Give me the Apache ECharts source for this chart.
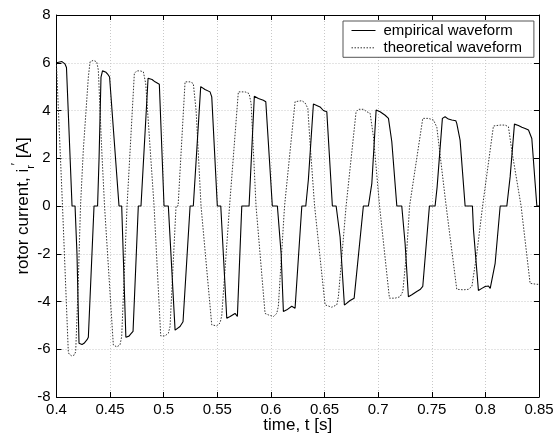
<!DOCTYPE html>
<html>
<head>
<meta charset="utf-8">
<script src="https://cdn.jsdelivr.net/npm/echarts@6/dist/echarts.min.js"></script>
<style>
html,body{margin:0;padding:0;background:#fff;}
#chart{width:555px;height:437px;}
</style>
</head>
<body>
<div id="chart"></div>
<script>
// ---- data ----
var empiricalTime = [0.4000,0.4051,0.4079,0.4093,0.4145,0.4173,0.4191,0.4210,0.4238,0.4257,0.4285,0.4297,0.4350,0.4383,0.4397,0.4415,0.4429,0.4462,0.4481,0.4495,0.4583,0.4608,0.4647,0.4676,0.4695,0.4714,0.4763,0.4788,0.4854,0.4891,0.4919,0.4959,0.5003,0.5043,0.5106,0.5115,0.5152,0.5180,0.5246,0.5276,0.5345,0.5385,0.5432,0.5448,0.5500,0.5532,0.5588,0.5619,0.5665,0.5687,0.5728,0.5796,0.5845,0.5883,0.5929,0.5952,0.5961,0.6013,0.6060,0.6095,0.6116,0.6148,0.6194,0.6209,0.6225,0.6288,0.6325,0.6349,0.6396,0.6412,0.6458,0.6489,0.6505,0.6521,0.6573,0.6608,0.6645,0.6685,0.6738,0.6776,0.6794,0.6862,0.6909,0.6941,0.6981,0.7018,0.7065,0.7081,0.7096,0.7127,0.7174,0.7220,0.7251,0.7282,0.7314,0.7360,0.7391,0.7416,0.7478,0.7531,0.7550,0.7599,0.7624,0.7655,0.7687,0.7702,0.7724,0.7733,0.7764,0.7811,0.7879,0.7889,0.7935,0.7967,0.7998,0.8029,0.8045,0.8091,0.8138,0.8200,0.8231,0.8271,0.8277,0.8308,0.8340,0.8371,0.8402,0.8433,0.8464,0.8480,0.8500];
var empiricalCurrent = [6.00,6.05,5.95,5.80,0,0,-2.0,-5.75,-5.80,-5.75,-5.60,-5.50,0,0,2.0,5.40,5.66,5.60,5.50,5.40,0,0,-5.50,-5.45,-5.35,-5.25,0,0,5.35,5.30,5.20,5.10,0,0,-5.20,-5.20,-5.05,-4.85,0,0,5.00,4.88,4.78,4.57,0,0,-4.70,-4.63,-4.50,-4.63,0,0,4.60,4.50,4.43,4.37,4.43,0,0,-2.0,-4.42,-4.35,-4.20,-4.15,-4.28,0,0,1.10,4.27,4.27,4.15,4.00,4.03,3.95,0,0,-1.30,-4.15,-3.96,-3.86,-3.80,0,0,0.95,4.02,3.95,3.80,3.80,3.67,2.70,0,0,-1.56,-3.80,-3.72,-3.58,-3.50,-3.37,0,0,0.80,3.67,3.74,3.64,3.60,3.53,3.57,3.46,2.76,0,0,-1.00,-3.54,-3.45,-3.37,-3.35,-3.45,-2.40,0,0,1.23,3.43,3.46,3.37,3.30,3.25,3.18,2.83,0.95,0,0];

var theoreticalTime = [0.4000,0.4056,0.4110,0.4117,0.4142,0.4166,0.4179,0.4203,0.4224,0.4233,0.4250,0.4297,0.4313,0.4343,0.4375,0.4390,0.4422,0.4448,0.4457,0.4530,0.4562,0.4592,0.4608,0.4658,0.4672,0.4726,0.4748,0.4779,0.4810,0.4832,0.4910,0.4928,0.4972,0.5012,0.5043,0.5059,0.5115,0.5134,0.5199,0.5208,0.5246,0.5276,0.5302,0.5348,0.5362,0.5448,0.5495,0.5525,0.5541,0.5614,0.5628,0.5696,0.5759,0.5796,0.5815,0.5861,0.5875,0.5945,0.5976,0.6023,0.6054,0.6069,0.6127,0.6141,0.6225,0.6288,0.6318,0.6344,0.6365,0.6407,0.6421,0.6505,0.6567,0.6614,0.6629,0.6701,0.6715,0.6794,0.6816,0.6862,0.6894,0.6925,0.6956,0.7013,0.7027,0.7105,0.7158,0.7205,0.7230,0.7267,0.7293,0.7307,0.7416,0.7469,0.7516,0.7547,0.7634,0.7648,0.7733,0.7795,0.7842,0.7874,0.7920,0.7974,0.7988,0.8075,0.8138,0.8184,0.8215,0.8247,0.8333,0.8347,0.8417,0.8480,0.8500];
var theoreticalCurrent = [5.90,0,-6.10,-6.20,-6.28,-6.24,-6.10,-3.20,0,0,2.34,5.40,6.04,6.10,6.04,5.70,2.34,0,0,-5.82,-5.90,-5.82,-5.47,0,0,5.55,5.66,5.66,5.62,5.13,0,0,-5.44,-5.44,-5.33,-5.05,0,0,5.20,5.24,5.20,5.13,4.00,0,0,-4.98,-5.02,-4.90,-4.60,0,0,4.78,4.78,4.71,4.30,0,0,-4.50,-4.56,-4.63,-4.50,-4.20,0,0,4.37,4.41,4.32,4.09,2.62,0,0,-4.14,-4.24,-4.14,-3.80,0,0,3.95,4.05,4.05,3.95,3.88,2.90,0,0,-3.86,-3.86,-3.80,-3.58,-1.84,0,0,3.67,3.67,3.60,3.30,0,0,-3.49,-3.51,-3.49,-3.37,-2.00,0,0,3.35,3.39,3.39,3.32,2.30,0,0,-3.24,-3.28,-3.28];

var seriesNames = ['empirical waveform', 'theoretical waveform'];
var xLabel = 'time, t [s]';
var yLabel = 'rotor current, i{r|r}{p|\u2032} [A]';

function zip(a, b) { var o = []; for (var i = 0; i < a.length; i++) o.push([a[i], b[i]]); return o; }

var chart = echarts.init(document.getElementById('chart'), null, {renderer: 'canvas'});
var font = '"Liberation Sans", Arial, Helvetica, sans-serif';
var gridLine = {show: true, lineStyle: {color: '#c8c8c8', type: [1, 2], width: 1}};

chart.setOption({
  animation: false,
  backgroundColor: '#fff',
  textStyle: {fontFamily: font, color: '#000'},
  grid: {left: 56.5, right: 16, top: 15, bottom: 40, show: false, containLabel: false, outerBoundsMode: 'none'},
  legend: {
    left: 343, top: 21,
    orient: 'vertical',
    backgroundColor: '#fff',
    borderColor: '#555', borderWidth: 1,
    padding: [2, 12, 2, 8],
    itemWidth: 24, itemHeight: 10, itemGap: 2.3,
    itemStyle: {color: 'rgba(0,0,0,0)', borderWidth: 0, opacity: 0},
    lineStyle: {width: 1},
    textStyle: {fontFamily: font, fontSize: 15, lineHeight: 15, color: '#000', padding: [0, 0, 0, 3]},
    data: seriesNames
  },
  xAxis: [{
    type: 'value', min: 0.4, max: 0.85, interval: 0.05,
    name: xLabel, nameLocation: 'middle', nameGap: 20, nameMoveOverlap: false,
    nameTextStyle: {fontFamily: font, fontSize: 17, color: '#000'},
    axisLine: {show: true, onZero: false, lineStyle: {color: '#000', width: 1}},
    axisTick: {show: true, inside: true, length: 5, lineStyle: {color: '#000'}},
    axisLabel: {fontFamily: font, fontSize: 15, color: '#000', margin: 5},
    splitLine: gridLine
  }, {
    type: 'value', min: 0.4, max: 0.85, interval: 0.05, position: 'top',
    axisLine: {show: true, onZero: false, lineStyle: {color: '#000', width: 1}},
    axisTick: {show: true, inside: true, length: 5, lineStyle: {color: '#000'}},
    axisLabel: {show: false}, splitLine: {show: false}
  }],
  yAxis: [{
    type: 'value', min: -8, max: 8, interval: 2,
    name: yLabel, nameLocation: 'middle', nameGap: 20, nameRotate: 90, nameMoveOverlap: false,
    nameTextStyle: {
      fontFamily: font, fontSize: 17, color: '#000', lineHeight: 26,
      rich: {
        r: {fontFamily: font, fontSize: 11, color: '#000', verticalAlign: 'bottom', lineHeight: 26},
        p: {fontFamily: font, fontSize: 12, color: '#000', verticalAlign: 'top', lineHeight: 26}
      }
    },
    axisLine: {show: true, onZero: false, lineStyle: {color: '#000', width: 1}},
    axisTick: {show: true, inside: true, length: 5, lineStyle: {color: '#000'}},
    axisLabel: {fontFamily: font, fontSize: 15, color: '#000', margin: 6},
    splitLine: gridLine
  }, {
    type: 'value', min: -8, max: 8, interval: 2, position: 'right',
    axisLine: {show: true, onZero: false, lineStyle: {color: '#000', width: 1}},
    axisTick: {show: true, inside: true, length: 5, lineStyle: {color: '#000'}},
    axisLabel: {show: false}, splitLine: {show: false}
  }],
  series: [{
    name: seriesNames[0], type: 'line', symbol: 'none', showSymbol: false,
    xAxisIndex: 0, yAxisIndex: 0,
    lineStyle: {color: '#000', width: 1.1, type: 'solid'},
    itemStyle: {color: '#000'},
    data: zip(empiricalTime, empiricalCurrent), z: 3
  }, {
    name: seriesNames[1], type: 'line', symbol: 'none', showSymbol: false,
    xAxisIndex: 0, yAxisIndex: 0,
    lineStyle: {color: '#333', width: 1, type: [1.5, 1.5]},
    itemStyle: {color: '#333'},
    data: zip(theoreticalTime, theoreticalCurrent), z: 2
  }]
});
</script>
</body>
</html>
